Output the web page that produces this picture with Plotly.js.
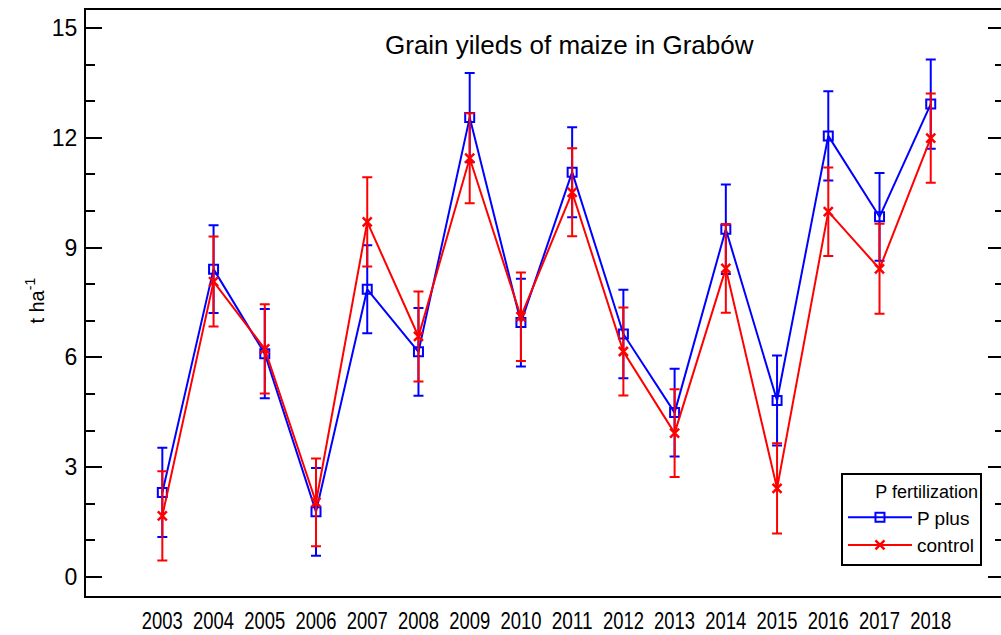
<!DOCTYPE html>
<html>
<head>
<meta charset="utf-8">
<script src="https://cdn.plot.ly/plotly-3.0.1.min.js"></script>
<style>
html,body{margin:0;padding:0;overflow:hidden;background:#fff;}
#chart{width:1005px;height:635px;}
</style>
</head>
<body>
<div id="chart"></div>
<script>
const years = [2003,2004,2005,2006,2007,2008,2009,2010,2011,2012,2013,2014,2015,2016,2017,2018];
const tickLabels = ["2003","2004","2005","2006","2007","2008","2009","2010","2011","2012","2013","2014","2015","2016","2017","2018"];
const pPlus = [2.31,8.41,6.10,1.78,7.86,6.15,12.55,6.95,11.06,6.64,4.49,9.50,4.82,12.05,9.84,12.92];
const pPlusErr = [1.22,1.20,1.22,1.20,1.20,1.20,1.22,1.20,1.23,1.21,1.20,1.22,1.23,1.22,1.20,1.22];
const control = [1.67,8.07,6.23,2.04,9.70,6.57,11.44,7.11,10.51,6.16,3.93,8.43,2.42,9.98,8.42,11.99];
const controlErr = [1.22,1.23,1.22,1.20,1.22,1.23,1.23,1.21,1.20,1.20,1.20,1.21,1.23,1.21,1.23,1.22];

const BLUE = '#0000FF', RED = '#FF0000';
const traces = [
  {
    x: years, y: pPlus, name: 'P plus', type: 'scatter', mode: 'lines+markers',
    line: {color: BLUE, width: 2},
    marker: {symbol: 'square-open', size: 9, color: BLUE, line: {color: BLUE, width: 2}},
    error_y: {type: 'data', array: pPlusErr, visible: true, color: BLUE, thickness: 2, width: 5}
  },
  {
    x: years, y: control, name: 'control', type: 'scatter', mode: 'lines+markers',
    line: {color: RED, width: 2},
    marker: {symbol: 'x-thin-open', size: 9, color: RED, line: {color: RED, width: 2.5}},
    error_y: {type: 'data', array: controlErr, visible: true, color: RED, thickness: 2, width: 5}
  }
];

const layout = {
  width: 1005, height: 635,
  margin: {l: 86, r: 1, t: 10, b: 39},
  paper_bgcolor: '#fff', plot_bgcolor: '#fff',
  font: {family: 'Liberation Sans, Arial, sans-serif', color: '#000'},
  showlegend: true,
  xaxis: {
    range: [2001.51, 2019.43], showgrid: false, zeroline: false,
    showline: true, linecolor: '#000', linewidth: 2, mirror: true,
    ticks: '', tickmode: 'array', tickvals: years, ticktext: tickLabels, tickangle: 0,
    tickfont: {family: 'Liberation Sans, Arial, sans-serif', size: 23, color: '#000'},
    ticklabelstandoff: 3
  },
  yaxis: {
    range: [-0.52, 15.49], showgrid: false, zeroline: false,
    showline: true, linecolor: '#000', linewidth: 2, mirror: 'allticks',
    ticks: 'inside', ticklen: 16, tickwidth: 2, tickcolor: '#000',
    tick0: 0, dtick: 3,
    minor: {ticks: 'inside', ticklen: 9, tickwidth: 2, tickcolor: '#000', dtick: 1, showgrid: false},
    tickfont: {family: 'Liberation Sans, Arial, sans-serif', size: 23, color: '#000'},
    ticklabelstandoff: 2
  },
  legend: {
    x: 0.976, xanchor: 'right', y: 0.21, yanchor: 'top',
    bordercolor: '#000', borderwidth: 2, bgcolor: '#fff',
    font: {family: 'Liberation Sans, Arial, sans-serif', size: 19, color: '#000'},
    title: {text: 'P fertilization', side: 'top right', font: {size: 18}},
    itemwidth: 64, tracegroupgap: 0
  },
  annotations: [
    {text: 'Grain yileds of maize in Grabów', xref: 'paper', yref: 'paper',
     x: 0.527, y: 0.94, xanchor: 'center', yanchor: 'middle', showarrow: false,
     font: {family: 'Liberation Sans, Arial, sans-serif', size: 26, color: '#000'}},
    {text: 't ha<sup>-1</sup>', xref: 'paper', yref: 'paper',
     x: -0.0556, y: 0.504, xanchor: 'center', yanchor: 'middle', showarrow: false, textangle: -90,
     font: {family: 'Liberation Sans, Arial, sans-serif', size: 20, color: '#000'}}
  ]
};

Plotly.newPlot('chart', traces, layout, {displayModeBar: false, staticPlot: true}).then(function (gd) {
  // reference x tick labels are horizontally condensed
  gd.querySelectorAll('.xtick text').forEach(function (t) {
    t.setAttribute('textLength', '41');
    t.setAttribute('lengthAdjust', 'spacingAndGlyphs');
  });
});
</script>
</body>
</html>
